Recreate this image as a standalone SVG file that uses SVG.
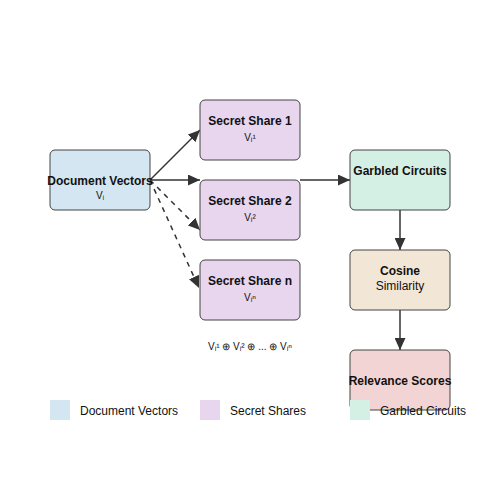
<svg xmlns="http://www.w3.org/2000/svg" width="500" height="500" viewBox="0 0 500 500">
<defs>
<marker id="arr" viewBox="0 0 10 10" refX="10" refY="5" markerWidth="12" markerHeight="11" markerUnits="userSpaceOnUse" orient="auto" preserveAspectRatio="none">
<path d="M0,0 L10,5 L0,10 z" fill="#333"/>
</marker>
<style>
.box{stroke:#444;stroke-width:1}
.t{font-family:"Liberation Sans",Arial,sans-serif;font-size:12px;font-weight:bold;fill:#111;text-anchor:middle}
.s{font-family:"Liberation Sans",Arial,sans-serif;font-size:10px;fill:#111;text-anchor:middle}
.n{font-family:"Liberation Sans",Arial,sans-serif;font-size:12px;fill:#111;text-anchor:middle}
.c{stroke:#333;stroke-width:1.5;fill:none;marker-end:url(#arr)}
.d{stroke-dasharray:5,5}
.lg{font-family:"Liberation Sans",Arial,sans-serif;font-size:12px;fill:#111}
</style>
</defs>
<rect width="500" height="500" fill="#fff"/>
<g id="connectors">
<line class="c" x1="150" y1="180" x2="200" y2="130"/>
<line class="c" x1="150" y1="180" x2="200" y2="180"/>
<line class="c d" x1="150" y1="180" x2="200" y2="230"/>
<line class="c d" x1="150" y1="180" x2="199" y2="288"/>
<line class="c" x1="300" y1="180" x2="350" y2="180"/>
<line class="c" x1="400" y1="210" x2="400" y2="250"/>
<line class="c" x1="400" y1="310" x2="400" y2="350"/>
</g>
<g id="doc">
<rect class="box" x="50" y="150" width="100" height="60" rx="5" fill="#d4e6f1"/>
<text class="t" x="100" y="185">Document Vectors</text>
<text class="s" x="100" y="199">Vᵢ</text>
</g>
<g id="share1">
<rect class="box" x="200" y="100" width="100" height="60" rx="5" fill="#e8d5ee"/>
<text class="t" x="250" y="125">Secret Share 1</text>
<text class="s" x="250" y="141">Vᵢ¹</text>
</g>
<g id="share2">
<rect class="box" x="200" y="180" width="100" height="60" rx="5" fill="#e8d5ee"/>
<text class="t" x="250" y="205">Secret Share 2</text>
<text class="s" x="250" y="221">Vᵢ²</text>
</g>
<g id="sharen">
<rect class="box" x="200" y="260" width="100" height="60" rx="5" fill="#e8d5ee"/>
<text class="t" x="250" y="285">Secret Share n</text>
<text class="s" x="250" y="301">Vᵢⁿ</text>
</g>
<g id="garbled">
<rect class="box" x="350" y="150" width="100" height="60" rx="5" fill="#d4efe4"/>
<text class="t" x="400" y="175">Garbled Circuits</text>
</g>
<g id="cosine">
<rect class="box" x="350" y="250" width="100" height="60" rx="5" fill="#f2e6d6"/>
<text class="t" x="400" y="275">Cosine</text>
<text class="n" x="400" y="290">Similarity</text>
</g>
<g id="relevance">
<rect class="box" x="350" y="350" width="100" height="60" rx="5" fill="#f2d4d4"/>
<text class="t" x="400" y="385">Relevance Scores</text>
</g>
<text class="s" x="250" y="350">Vᵢ¹ ⊕ Vᵢ² ⊕ ... ⊕ Vᵢⁿ</text>
<g id="legend">
<rect x="50" y="400" width="20" height="20" fill="#d4e6f1"/>
<text class="lg" x="80" y="415">Document Vectors</text>
<rect x="200" y="400" width="20" height="20" fill="#e8d5ee"/>
<text class="lg" x="230" y="415">Secret Shares</text>
<rect x="350" y="400" width="20" height="20" fill="#d4efe4"/>
<text class="lg" x="380" y="415">Garbled Circuits</text>
</g>
</svg>
